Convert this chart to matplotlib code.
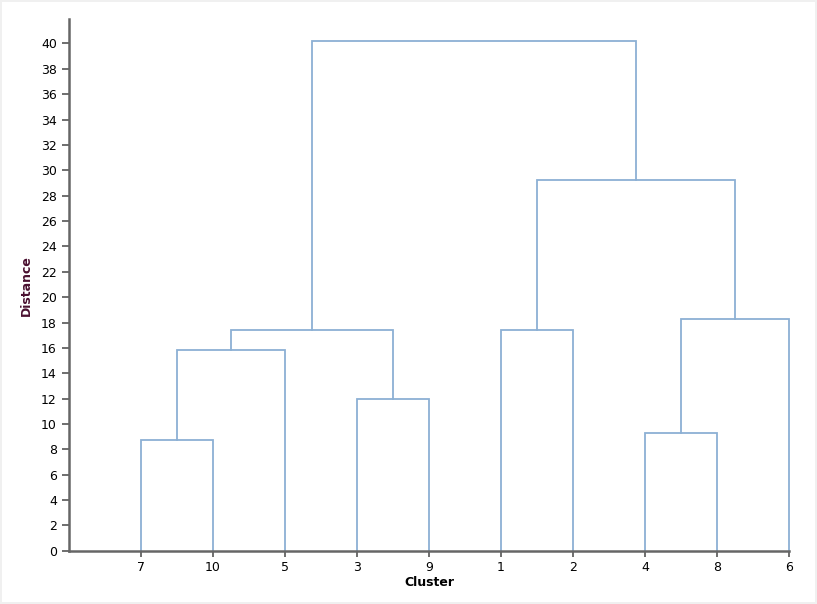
import matplotlib
matplotlib.use("Agg")
import matplotlib.pyplot as plt

leaves = ["7", "10", "5", "3", "9", "1", "2", "4", "8", "6"]
# merges: (left node, right node, height); nodes 0-9 leaves, 10+ merged clusters
merges = [
    (0, 1, 8.7),    # 10: 7,10
    (10, 2, 15.8),  # 11: +5
    (3, 4, 12.0),   # 12: 3,9
    (11, 12, 17.4), # 13
    (5, 6, 17.4),   # 14: 1,2
    (7, 8, 9.3),    # 15: 4,8
    (15, 9, 18.3),  # 16: +6
    (14, 16, 29.2), # 17
    (13, 17, 40.2), # 18
]

fig = plt.figure(figsize=(8.17, 6.04), dpi=100)
fig.patch.set_facecolor("#f0f0f0")
ax = fig.add_axes([0.084, 0.088, 0.882, 0.88])
bg = fig.add_axes([0.003, 0.003, 0.994, 0.994], zorder=-1)
bg.set_facecolor("white"); bg.set_xticks([]); bg.set_yticks([])
for s in bg.spines.values():
    s.set_visible(False)

xpos = {i: i + 1 for i in range(len(leaves))}
ypos = {i: 0.0 for i in range(len(leaves))}
col = "#8cb0d4"
for k, (a, b, h) in enumerate(merges):
    n = len(leaves) + k
    xa, xb = xpos[a], xpos[b]
    ax.plot([xa, xa, xb, xb], [ypos[a], h, h, ypos[b]], color=col, lw=1.3,
            solid_joinstyle="miter", clip_on=False)
    xpos[n] = (xa + xb) / 2
    ypos[n] = h

ax.set_xlim(0, 10)
ax.set_ylim(0, 41.9)
ax.set_xticks(range(1, 11))
ax.set_xticklabels(leaves)
ax.set_yticks(range(0, 41, 2))
ax.tick_params(labelsize=9, color="#555555", length=5, width=1.2)
ax.tick_params(axis="x", length=4)
for s in ["top", "right"]:
    ax.spines[s].set_visible(False)
for s in ["left", "bottom"]:
    ax.spines[s].set_color("#666666")
    ax.spines[s].set_linewidth(1.8)
ax.set_xlabel("Cluster", fontsize=9, fontweight="bold", labelpad=1)
ax.set_ylabel("Distance", fontsize=9, fontweight="bold", color="#4a1030", labelpad=6)
fig.savefig("out.png", dpi=100, facecolor=fig.get_facecolor())
